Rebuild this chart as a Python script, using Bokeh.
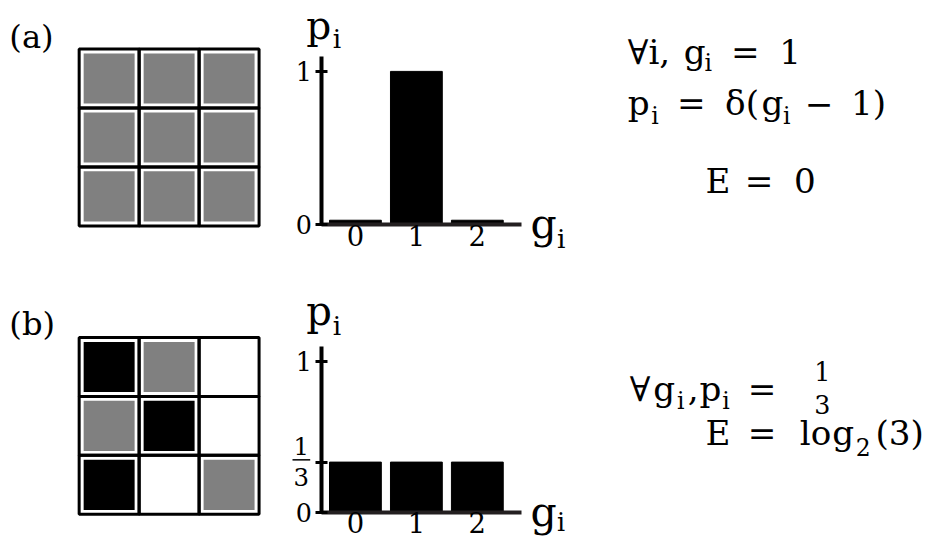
from bokeh.plotting import figure
from bokeh.models import Range1d, LinearAxis, FixedTicker, ColumnDataSource
from bokeh.core.properties import value
from bokeh.embed import file_html
from bokeh.resources import INLINE

# ---------------- data ----------------
# grid states: 0 = white, 1 = gray, 2 = black
GRID_A = [[1, 1, 1],
          [1, 1, 1],
          [1, 1, 1]]
GRID_B = [[2, 1, 0],
          [1, 2, 0],
          [2, 0, 1]]
G_VALUES = [0, 1, 2]
X_TICK_LABELS = ["0", "1", "2"]
P_A = [0.03, 1.0, 0.03]          # panel (a) histogram
P_B = [1 / 3, 1 / 3, 1 / 3]      # panel (b) histogram
Y_TICKS_A = [0, 1]
Y_TICKS_B = [0, 1 / 3, 1]
PANEL_LABELS = ["(a)", "(b)"]
CELL_COLORS = {0: "white", 1: "#808080", 2: "black"}

FONT = "DejaVu Serif"

# ---------------- layout (coordinates of a 950x554 drawing, scaled to the figure) ----------------
W, H = 934, 538
REF_W, REF_H = 950, 554
FS = (W / REF_W + H / REF_H) / 2


def fpx(v):
    return f"{v * FS:.1f}px"


def mid(baseline, size):
    # vertical centre of the text box for a given baseline
    return baseline - 0.35 * size


def xr(origin, scale):
    return Range1d((0 - origin) / scale, (REF_W - origin) / scale)


def yr_down(origin, scale):
    return Range1d((REF_H - origin) / scale, (0 - origin) / scale)


def yr_up(origin, scale):
    return Range1d((origin - REF_H) / scale, origin / scale)


p = figure(width=W, height=H,
           x_range=Range1d(0, REF_W), y_range=Range1d(REF_H, 0),
           x_axis_type=None, y_axis_type=None,
           toolbar_location=None, output_backend="svg",
           min_border=0, outline_line_color=None,
           background_fill_color="white", border_fill_color="white")

p.extra_x_ranges = {"gx": xr(80, 61.0), "bx": xr(361, 62.0)}
p.extra_y_ranges = {"gya": yr_down(50, 60.7), "gyb": yr_down(347, 60.7),
                    "bya": yr_up(231, 158.0), "byb": yr_up(527, 155.0)}

# ---------------- grids ----------------
for grid, yname in ((GRID_A, "gya"), (GRID_B, "gyb")):
    xs, ys, cols = [], [], []
    for r, row in enumerate(grid):
        for c, v in enumerate(row):
            xs.append(c + 0.5)
            ys.append(r + 0.5)
            cols.append(CELL_COLORS[v])
    src = ColumnDataSource(dict(x=xs, y=ys, color=cols))
    p.rect("x", "y", width=0.85, height=0.85, source=src, fill_color="color",
           line_color=None, x_range_name="gx", y_range_name=yname)
    p.rect("x", "y", width=1, height=1, source=src, fill_color=None,
           line_color="black", line_width=3, x_range_name="gx", y_range_name=yname)

# ---------------- histograms ----------------
AX_X = -0.55
for vals, yname, yticks, ylabels in (
        (P_A, "bya", Y_TICKS_A, {0: "0", 1: "1"}),
        (P_B, "byb", Y_TICKS_B, {0: "0", 1 / 3: "", 1: "1"})):
    p.vbar(x=G_VALUES, top=vals, bottom=0, width=0.85, color="black",
           x_range_name="bx", y_range_name=yname)
    ya = LinearAxis(x_range_name="bx", y_range_name=yname, fixed_location=AX_X,
                    bounds=(0, 1.1), ticker=FixedTicker(ticks=yticks),
                    major_label_overrides=ylabels,
                    axis_line_width=4, axis_line_color="black",
                    major_tick_line_width=3, major_tick_line_color="black",
                    major_tick_in=6, major_tick_out=6,
                    minor_tick_line_color=None,
                    major_label_text_font=FONT, major_label_text_font_size=fpx(26),
                    major_label_text_color="black",
                    major_label_standoff=4)
    p.add_layout(ya, "left")
    xa = LinearAxis(x_range_name="bx", y_range_name=yname, fixed_location=0,
                    bounds=(AX_X, 2.73), ticker=FixedTicker(ticks=G_VALUES),
                    major_label_overrides={g: t for g, t in zip(G_VALUES, X_TICK_LABELS)},
                    axis_line_width=4, axis_line_color="#231f20",
                    major_tick_in=0, major_tick_out=0, minor_tick_line_color=None,
                    major_label_text_font=FONT, major_label_text_font_size=fpx(28),
                    major_label_text_color="black",
                    major_label_standoff=0)
    p.add_layout(xa, "below")

# fraction tick label 1/3 on panel (b)
p.segment(x0=[297], y0=[473], x1=[315], y1=[473], line_color="black", line_width=1.5)
p.text(x=[306, 306], y=[mid(467, 25), mid(499, 25)], text=["1", "3"],
       text_font=value(FONT), text_font_size=fpx(25), text_align="center",
       text_baseline="middle")

# ---------------- texts (text, x, baseline, size) ----------------
BIG, SUB = 35, 24
pieces = [
    (PANEL_LABELS[0], 9, 49, 33), (PANEL_LABELS[1], 9, 345, 33),
    # axis labels
    ("p", 311, 40, 40), ("i", 338, 49, 27),
    ("g", 539, 245, 42), ("i", 566, 255, 27),
    ("p", 311, 334, 41), ("i", 338, 344, 27),
    ("g", 539, 541, 42), ("i", 566, 546, 26),
    # (a) equations
    ("\u2200i,", 638, 65, BIG), ("g", 695, 65, BIG), ("i", 716, 73, SUB),
    ("=", 743, 65, BIG), ("1", 792, 65, BIG),
    ("p", 638, 118, BIG), ("i", 662, 127, SUB), ("=", 688, 118, BIG),
    ("\u03b4(", 737, 118, BIG), ("g", 774, 118, BIG), ("i", 796, 127, SUB),
    ("\u2212", 818, 118, BIG), ("1)", 865, 118, BIG),
    ("E", 717, 198, BIG), ("=", 757, 198, BIG), ("0", 807, 198, BIG),
    # (b) equations
    ("\u2200", 640, 412, BIG), ("g", 664, 412, BIG), ("i", 688, 421, SUB),
    (",", 699, 412, BIG), ("p", 711, 412, BIG), ("i", 734, 421, SUB),
    ("=", 760, 412, BIG),
    ("E", 717, 458, BIG), ("=", 760, 458, BIG),
    ("lo", 813, 458, BIG), ("g", 846, 458, BIG),
    ("2", 870, 468, SUB), ("(3)", 890, 458, BIG),
]
tsrc = ColumnDataSource(dict(
    text=[t[0] for t in pieces], x=[t[1] for t in pieces],
    y=[mid(t[2], t[3]) for t in pieces], size=[fpx(t[3]) for t in pieces]))
p.text("x", "y", text="text", source=tsrc, text_font=value(FONT),
       text_font_size="size", text_baseline="middle", text_align="left",
       text_color="black")
# the 1/3 in the (b) equation
p.text(x=[836, 836], y=[mid(391, 26), mid(425, 26)], text=["1", "3"],
       text_font=value(FONT), text_font_size=fpx(26), text_align="center",
       text_baseline="middle")

open("out.html", "w").write(file_html(p, INLINE))
